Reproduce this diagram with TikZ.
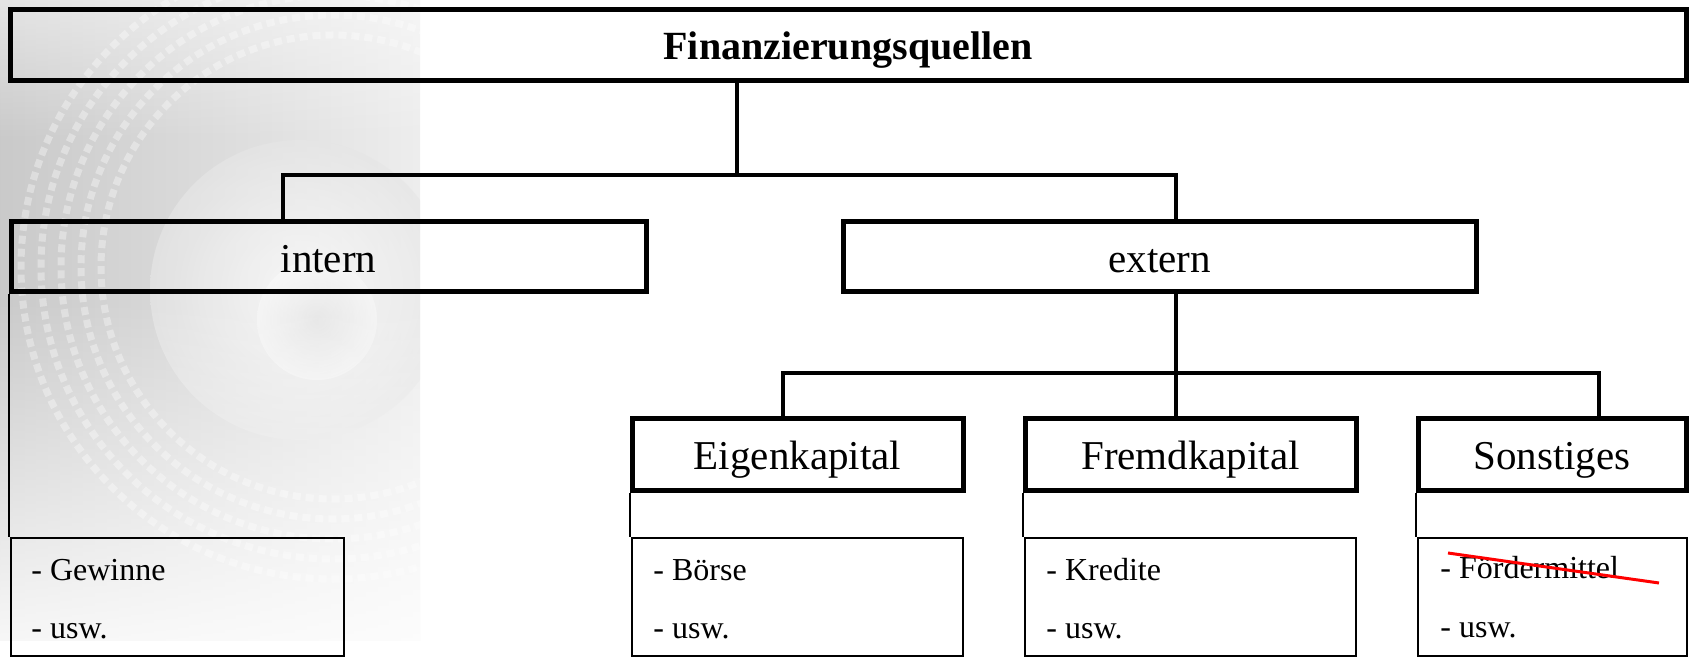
\documentclass[tikz,border=0pt]{standalone}
\usepackage{fontspec}
\setmainfont{Liberation Serif}
\usetikzlibrary{fadings}
\tikzfading[name=fadetopw, top color=transparent!0, bottom color=transparent!100]
\tikzfading[name=fadebotw, top color=transparent!100, bottom color=transparent!0]
\begin{document}
\begin{tikzpicture}[x=0.5pt,y=-0.5pt,
  hdr/.style={draw, line width=2.5pt, inner sep=0pt, font=\fontsize{20.5pt}{24pt}\selectfont, text height=15.5pt, text depth=0pt, minimum height=35pt},
  topbox/.style={draw, line width=2.5pt, inner sep=0pt, font=\bfseries\fontsize{20pt}{24pt}\selectfont, text height=14.5pt, text depth=0pt, minimum height=35.5pt},
  listbox/.style={draw, line width=1.2pt, inner sep=0pt, minimum height=59pt},
  item/.style={anchor=base west, inner sep=0pt, font=\fontsize{16pt}{19pt}\selectfont},
  conn/.style={line width=2pt},
  link/.style={line width=1pt},
  strike/.style={red, line width=1.5pt}]
\useasboundingbox (0,0) rectangle (1690,657);
% background photo (approximation)
\begin{scope}
  \clip (0,0) rectangle (420,640);
  \fill[left color=gray!42, right color=gray!14] (0,0) rectangle (420,640);
  % lens
  \shade[inner color=white, outer color=gray!20, opacity=0.7] (300,290) circle[radius=75pt];
  \shade[inner color=gray!35, outer color=white, opacity=0.35] (317,320) circle[radius=30pt];
  % dotted rings
  \foreach \r in {232,252,272,292,312}
    \draw[white, opacity=0.35, line width=3.5pt, dash pattern=on 4pt off 2.5pt] (333,267) circle[radius=\r*0.5pt];
  % fades to white
  \fill[white, opacity=0.7, path fading=fadetopw] (0,-60) rectangle (420,140);
  \fill[white, path fading=fadebotw] (0,300) rectangle (420,700);
\end{scope}
% boxes
\node[topbox, minimum width=838pt] (top) at (848,45.5) {Finanzierungsquellen};
\node[hdr, minimum width=317.5pt] (intern) at (328.5,257) {intern};
\node[hdr, minimum width=316.5pt] (extern) at (1159.5,257) {extern};
\node[hdr, minimum width=165.5pt, minimum height=36pt] (eigen) at (797.5,454) {Eigenkapital};
\node[hdr, minimum width=165.5pt, minimum height=36pt] (fremd) at (1190.5,454) {Fremdkapital};
\node[hdr, minimum width=134pt, minimum height=36pt] (sonst) at (1552,454) {Sonstiges};
\node[listbox, minimum width=166.5pt] (lgew) at (177.5,597) {};
\node[listbox, minimum width=165.5pt] (lbor) at (797.5,597) {};
\node[listbox, minimum width=165.5pt] (lkre) at (1190.5,597) {};
\node[listbox, minimum width=134.5pt] (lfoe) at (1552.5,597) {};
% list items
\node[item] (g1) at (31,580) {- Gewinne};
\node[item] (g2) at (31,638) {- usw.};
\node[item] (b1) at (653,580) {- Börse};
\node[item] (b2) at (653,638) {- usw.};
\node[item] (k1) at (1046,580) {- Kredite};
\node[item] (k2) at (1046,638) {- usw.};
\node[item] (f1) at (1440,578) {- Fördermittel};
\node[item] (f2) at (1440,637) {- usw.};
% connectors
\coordinate (j0) at (737,175);
\coordinate (jl) at (283,175);
\coordinate (jr) at (1176,175);
\draw[conn] (top.south -| j0) -- (j0);
\draw[conn] (intern.north -| jl) -- (jl) -- (jr) -- (extern.north -| jr);
\coordinate (m0) at (1176,373);
\coordinate (ml) at (783,373);
\coordinate (mr) at (1599,373);
\draw[conn] (extern.south -| m0) -- (m0) -- (fremd.north -| m0);
\draw[conn] (eigen.north -| ml) -- (ml) -- (mr) -- (sonst.north -| mr);
% thin links
\draw[link] (intern.south west) -- (intern.south west |- lgew.north);
\draw[link] (eigen.south west) -- (eigen.south west |- lbor.north);
\draw[link] (fremd.south west) -- (fremd.south west |- lkre.north);
\draw[link] (sonst.south west) -- (sonst.south west |- lfoe.north);
% strike-through
\coordinate (s1) at (1448,553);
\coordinate (s2) at (1659,583);
\draw[strike] (s1) -- (s2);
\end{tikzpicture}
\end{document}
